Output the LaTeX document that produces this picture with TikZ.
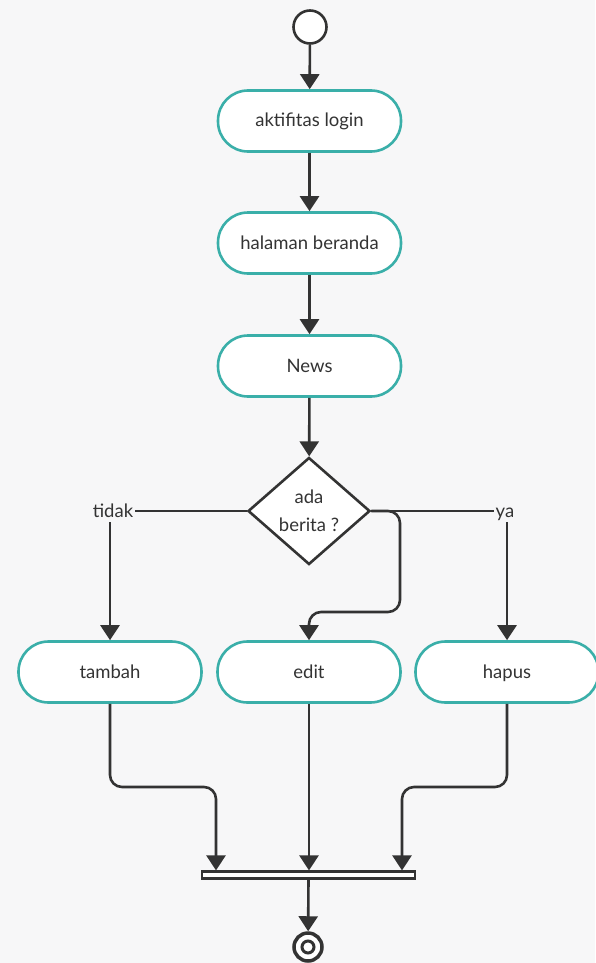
\documentclass[tikz,border=0pt]{standalone}
\usepackage{xcolor}
\usepackage{fontspec}
\setmainfont{Lato}
\usepackage{tikz}
\usetikzlibrary{shapes.geometric}
\usetikzlibrary{arrows.meta}
\usetikzlibrary{calc}

\definecolor{bgcol}{HTML}{F7F7F8}
\definecolor{boxcol}{HTML}{3AAFA9}
\definecolor{inkcol}{HTML}{333333}

\tikzset{
	actbox/.style={rectangle,rounded corners=30pt,draw=boxcol,line width=2.6pt,fill=white,
		minimum width=183pt,minimum height=61pt,text=inkcol,font=\fontsize{18.5}{22}\selectfont,
		text height=15pt,text depth=3pt},
	flow/.style={draw=inkcol,line width=2.6pt,-{Triangle[width=19pt,length=15pt]}},
	plainline/.style={draw=inkcol,line width=2.6pt},
	guard/.style={text=inkcol,font=\fontsize{18.5}{22}\selectfont,inner sep=2pt,text height=15pt,text depth=3pt}
}

\begin{document}
\begin{tikzpicture}[x=1pt,y=-1pt]
		\useasboundingbox (0,0) rectangle (595,963);
		\fill[bgcol] (0,0) rectangle (595,963);
		\node[circle,draw=inkcol,line width=2.6pt,fill=white,minimum size=33pt,inner sep=0pt] (start) at (310,27) {};
		\node[actbox] (login) at (309.5,121) {aktifitas login};
		\node[actbox] (beranda) at (309.5,243) {halaman beranda};
		\node[actbox] (news) at (309.5,366) {News};
		\node[diamond,draw=inkcol,line width=2.6pt,fill=white,minimum width=122pt,minimum height=107pt,inner sep=0pt,
			align=center,text=inkcol,font=\fontsize{18.5}{28}\selectfont] (cek) at (309,511) {ada\\berita ?};
		\node[guard] (tidak) at (113,511) {tidak};
		\node[guard] (ya) at (505,511) {ya};
		\node[actbox] (tambah) at (110,672) {tambah};
		\node[actbox] (edit) at (309,672) {edit};
		\node[actbox] (hapus) at (507,672) {hapus};
		\node[rectangle,draw=inkcol,line width=2.2pt,fill=white,minimum width=213pt,minimum height=7pt,inner sep=0pt] (gabung) at (308.5,875) {};
		\node[circle,draw=inkcol,line width=3.5pt,fill=white,minimum size=28pt,inner sep=0pt] (finish) at (308,947) {};
		\node[circle,draw=inkcol,line width=3pt,fill=white,minimum size=12pt,inner sep=0pt] (finishdot) at (finish) {};
		\coordinate (belok) at (400,612);
		\coordinate (kiri) at (216,787);
		\coordinate (kanan) at (402,787);
		\draw[flow] (start) -- (login);
		\draw[flow] (login) -- (beranda);
		\draw[flow] (beranda) -- (news);
		\draw[flow] (news) -- (cek);
		\draw[plainline] (cek.west) -- (tidak.east |- cek.west);
		\draw[plainline] (cek.east) -- (ya.west |- cek.east);
		\draw[flow] (tambah.north |- tidak.south) -- (tambah.north);
		\draw[flow] (hapus.north |- ya.south) -- (hapus.north);
		\draw[flow,rounded corners=12pt] (cek.east) -| (belok) -| (edit.north);
		\draw[flow,rounded corners=12pt] (tambah.south) |- (kiri) -- (kiri |- gabung.north);
		\draw[flow] (edit.south) -- (edit.south |- gabung.north);
		\draw[flow,rounded corners=12pt] (hapus.south) |- (kanan) -- (kanan |- gabung.north);
		\draw[flow] (gabung.south) -- (finish);
	\end{tikzpicture}
\end{document}
